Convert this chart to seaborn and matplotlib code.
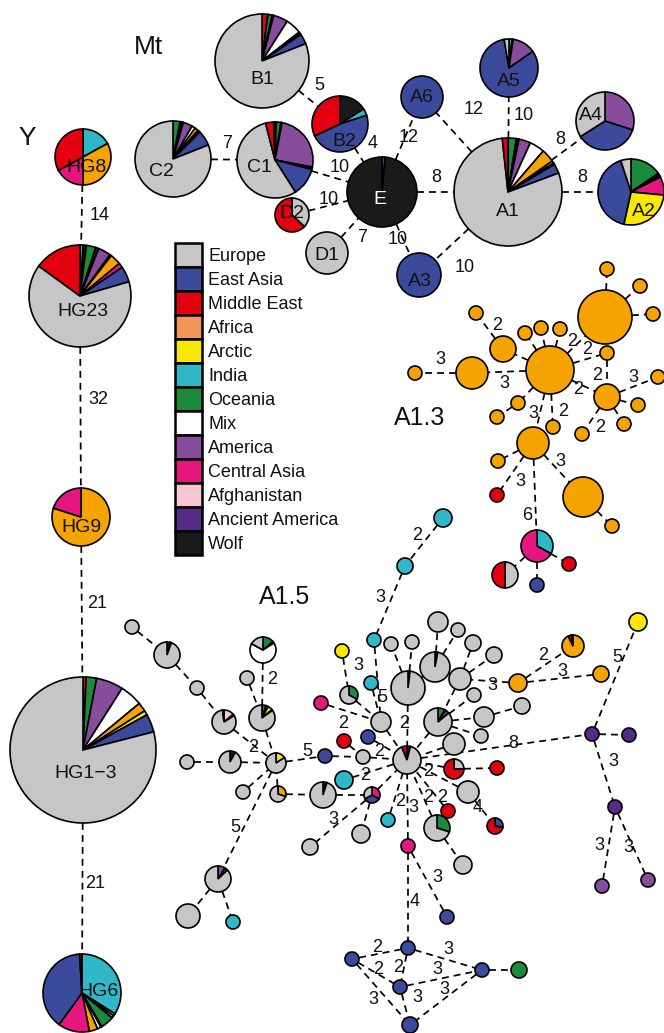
import matplotlib
matplotlib.use("Agg")
import matplotlib.pyplot as plt
import seaborn as sns
import numpy as np
from matplotlib.patches import Patch

sns.set_theme(style="white")
plt.rcParams["font.family"] = ["Liberation Sans", "DejaVu Sans"]
plt.rcParams["lines.scale_dashes"] = False

# ---- regions and colours -------------------------------------------------
regions = ["Europe", "East Asia", "Middle East", "Africa", "Arctic", "India",
           "Oceania", "Mix", "America", "Central Asia", "Afghanistan",
           "Ancient America", "Wolf"]
region_codes = ["EU", "EA", "ME", "AF", "AR", "IN", "OC", "MX", "AM", "CA",
                "AG", "AA", "WO"]
region_colors = ["#C6C6C6", "#3C4A9B", "#E3000F", "#F4965A", "#FBE800",
                 "#30B8C9", "#1B8A3B", "#FFFFFF", "#874C9B", "#E5177F",
                 "#F7C6D3", "#552B86", "#1A1A1A"]
colors = dict(zip(region_codes, region_colors))
colors["OR"] = "#F5A300"  # orange lineage colour used in the networks

# ---- mitochondrial network ---------------------------------------------
mt_nodes = [("B1", 262, 61, 47), ("B2", 340, 124, 28), ("C2", 173, 159, 38),
            ("C1", 275, 160, 38), ("D2", 292, 215, 17), ("D1", 327, 253, 21),
            ("E", 382, 192, 35), ("A6", 422, 97, 21), ("A5", 509, 68, 29),
            ("A4", 605, 121, 29), ("A1", 508, 192, 54), ("A2", 631, 192, 33),
            ("A3", 419, 275, 22)]
mt_label_pos = {"B1": (262, 79), "B2": (344, 141), "C2": (161, 171),
                "C1": (259, 167), "D2": (292, 214), "D1": (327, 256),
                "E": (380, 200), "A6": (422, 97), "A5": (509, 81),
                "A4": (591, 116), "A1": (508, 211), "A2": (644, 211),
                "A3": (420, 281)}
mt_mix = {
    "B1": [("ME", 2), ("OC", 1.5), ("WO", 0.5), ("AM", 5), ("MX", 5.5),
           ("AR", 0.5), ("OR", 0.5), ("EA", 3.5), ("EU", 81)],
    "B2": [("WO", 16), ("IN", 4), ("EA", 48), ("ME", 32)],
    "C2": [("OC", 3), ("WO", 0.7), ("IN", 0.7), ("AM", 4), ("MX", 1.5),
           ("OR", 1.5), ("AR", 0.5), ("CA", 0.6), ("EA", 6.5), ("EU", 81)],
    "C1": [("WO", 0.5), ("OC", 2), ("WO", 0.5), ("AM", 25), ("WO", 0.5),
           ("AR", 0.5), ("EA", 12), ("EU", 55), ("ME", 3.5), ("WO", 0.5)],
    "D2": [("EU", 37), ("ME", 63)],
    "D1": "EU",
    "E": [("EA", 1.5), ("WO", 98.5)],
    "A6": "EA",
    "A5": [("IN", 1.7), ("WO", 0.6), ("AM", 13), ("EA", 82), ("EU", 2.7)],
    "A4": [("AM", 30), ("EA", 36), ("EU", 34)],
    "A1": [("OC", 2.5), ("WO", 0.5), ("IN", 0.3), ("AM", 3.5), ("MX", 4.5),
           ("OR", 4), ("AR", 0.7), ("WO", 0.5), ("EA", 2.8), ("EU", 79),
           ("ME", 1.7)],
    "A2": [("OC", 15.5), ("WO", 0.5), ("AM", 1), ("IN", 0.5), ("CA", 9),
           ("AR", 27), ("EA", 41.5), ("EU", 5)],
    "A3": "EA",
}
mt_edges = [("B1", "B2", "5", 319, 85), ("C2", "C1", "7", 227, 143),
            ("C1", "E", "10", 340, 167), ("B2", "E", "4", 373, 143),
            ("D2", "E", "10", 329, 200), ("D1", "E", "7", 362, 238),
            ("E", "A6", "12", 409, 137), ("E", "A3", "10", 398, 240),
            ("E", "A1", "8", 436, 177), ("A1", "A6", "12", 474, 110),
            ("A1", "A5", "10", 524, 115), ("A1", "A4", "8", 560, 139),
            ("A1", "A2", "8", 582, 178), ("A1", "A3", "10", 465, 267)]

# ---- Y-chromosome network ----------------------------------------------
y_nodes = [("HG8", 83, 157, 28), ("HG23", 80, 296, 51), ("HG9", 81, 517, 29),
           ("HG13", 83, 750, 73), ("HG6", 82, 993, 39)]
y_labels = {"HG8": ("HG8", 86, 167), "HG23": ("HG23", 83, 311),
            "HG9": ("HG9", 81, 527), "HG13": ("HG1\u22123", 86, 773),
            "HG6": ("HG6", 99, 991)}
y_mix = {
    "HG8": [("IN", 17), ("OR", 33), ("CA", 17), ("ME", 33)],
    "HG23": [("IN", 1), ("WO", 1), ("OC", 3), ("WO", 1), ("AM", 4),
             ("WO", 0.5), ("OR", 3.5), ("CA", 1.5), ("EA", 5), ("EU", 64.5),
             ("ME", 15)],
    "HG9": [("OR", 80), ("CA", 20)],
    "HG13": [("ME", 0.7), ("OC", 2.3), ("AM", 6), ("MX", 5), ("OR", 2),
             ("AR", 1), ("EA", 4), ("EU", 79)],
    "HG6": [("IN", 34), ("AG", 1), ("MX", 1), ("OC", 5.5), ("WO", 0.5),
            ("MX", 1.5), ("OR", 3.5), ("CA", 13), ("EA", 39), ("ME", 1)],
}
y_edges = [("HG8", "HG23", "14", 100, 216), ("HG23", "HG9", "32", 98, 400),
           ("HG9", "HG13", "21", 97, 603), ("HG13", "HG6", "21", 95, 883)]

# ---- A1.3 sub-network ----------------------------------------------------
a13_nodes = [("o1", 607, 269, 7), ("o2", 640, 286, 7), ("o3", 653, 314, 7),
             ("oB", 605, 317, 27), ("oC", 550, 370, 24), ("o4", 503, 349, 13),
             ("o5", 472, 373, 16), ("o6", 415, 373, 7), ("o7", 476, 313, 7),
             ("o8", 525, 333, 7), ("o9", 541, 328, 7), ("o10", 560, 329, 7),
             ("o11", 607, 353, 7), ("o12", 607, 397, 13), ("o13", 658, 377, 7),
             ("o14", 638, 405, 7), ("o15", 624, 424, 7), ("o16", 582, 434, 7),
             ("o17", 553, 427, 7), ("o18", 518, 403, 7), ("o19", 497, 417, 7),
             ("o20", 533, 443, 16), ("o21", 498, 461, 7), ("o22", 583, 497, 20),
             ("o23", 612, 526, 7), ("r1", 497, 495, 7), ("m1", 537, 546, 16),
             ("r2", 569, 564, 7), ("rg", 505, 575, 13), ("bb", 537, 585, 7),
             ("c1", 443, 518, 9), ("c2", 405, 566, 8)]
a13_mix = {"r1": "ME", "r2": "ME", "bb": "EA", "c1": "IN", "c2": "IN",
           "m1": [("IN", 33), ("CA", 67)], "rg": [("EU", 50), ("ME", 50)]}
a13_edges = [("oB", "o1"), ("oB", "o2"), ("oB", "o3"),
             ("oC", "oB", "2", 572, 342), ("oC", "o11", "2", 587, 350),
             ("o11", "o12", "2", 597, 375), ("oC", "o12", "2", 578, 390),
             ("oC", "o4"), ("o4", "o7", "2", 497, 325),
             ("oC", "o5", "3", 504, 383), ("o5", "o6", "3", 440, 360),
             ("oC", "o8"), ("oC", "o9"), ("oC", "o10"),
             ("o12", "o13", "3", 633, 377), ("o12", "o14"), ("o12", "o15"),
             ("o12", "o16", "2", 600, 427), ("oC", "o17", "2", 563, 412),
             ("oC", "o18"), ("o18", "o19"), ("oC", "o20", "3", 533, 413),
             ("o20", "o21"), ("o20", "r1", "3", 520, 482),
             ("o20", "m1", "6", 527, 515), ("o20", "o22", "3", 560, 462),
             ("o22", "o23"), ("m1", "r2"), ("m1", "rg"), ("m1", "bb"),
             ("c1", "c2", "2", 417, 535), ("c2", "a7", "3", 380, 598)]

# ---- A1.5 sub-network ----------------------------------------------------
a15_nodes = [("g0", 407, 760, 14), ("a1", 438, 622, 10), ("a2", 458, 630, 7),
             ("a3", 473, 643, 8), ("a4", 494, 655, 8), ("a5", 391, 644, 7),
             ("a6", 412, 642, 7), ("a7", 374, 640, 7), ("a8", 342, 651, 7),
             ("a9", 435, 667, 15), ("a10", 408, 688, 17), ("a11", 460, 679, 11),
             ("a12", 371, 683, 7), ("a13", 349, 695, 9), ("a14", 321, 703, 7),
             ("a15", 381, 722, 10), ("a16", 438, 722, 14), ("a17", 474, 695, 7),
             ("a18", 484, 717, 10), ("a19", 522, 706, 8), ("a20", 518, 683, 9),
             ("a21", 573, 646, 11), ("a22", 601, 674, 8), ("a23", 638, 622, 9),
             ("p1", 592, 734, 7), ("p2", 629, 735, 7), ("p3", 615, 807, 7),
             ("p4", 602, 886, 7), ("p5", 648, 880, 7), ("a24", 344, 741, 7),
             ("a25", 368, 737, 7), ("a26", 481, 736, 7), ("a27", 454, 744, 11),
             ("a28", 363, 757, 7), ("a29", 325, 756, 7), ("a30", 454, 769, 10),
             ("a31", 497, 768, 7), ("a32", 344, 780, 9), ("a33", 323, 795, 13),
             ("a34", 372, 795, 8), ("a35", 468, 792, 11), ("a36", 448, 811, 7),
             ("a37", 495, 826, 8), ("a38", 437, 828, 13), ("a39", 388, 820, 7),
             ("a40", 361, 834, 9), ("a41", 310, 847, 8), ("a42", 408, 846, 7),
             ("a43", 463, 865, 9), ("a44", 447, 917, 7), ("b1", 408, 948, 7),
             ("b2", 352, 959, 7), ("b3", 400, 987, 7), ("b4", 482, 970, 7),
             ("b5", 410, 1025, 8), ("b6", 519, 970, 8),
             ("l1", 132, 627, 7), ("l2", 167, 655, 13), ("l3", 197, 688, 7),
             ("l4", 224, 722, 12), ("l5", 247, 678, 7), ("l6", 263, 650, 13),
             ("l7", 262, 718, 13), ("l8", 187, 762, 7), ("l9", 230, 762, 11),
             ("l10", 276, 763, 10), ("l11", 243, 792, 7), ("l12", 278, 794, 8),
             ("l13", 218, 879, 13), ("l14", 188, 916, 12), ("l15", 233, 922, 7)]
a15_mix = {
    "g0": [("WO", 4), ("EU", 90), ("ME", 6)],
    "a7": "IN", "a8": "AR", "a9": [("WO", 3), ("EU", 97)],
    "a10": [("WO", 2), ("EU", 98)], "a12": "IN",
    "a13": [("OC", 33), ("EU", 67)], "a14": "CA",
    "a16": [("OC", 8), ("WO", 1), ("EA", 5), ("EU", 86)],
    "a20": "OR", "a21": [("OR", 93), ("ME", 5), ("WO", 2)], "a22": "OR",
    "a23": "AR", "p1": "AA", "p2": "AA", "p3": "AA", "p4": "AM", "p5": "AM",
    "a24": "ME", "a25": "EA", "a29": "EA",
    "a30": [("EU", 25), ("ME", 75)], "a31": "ME", "a32": "IN",
    "a33": [("WO", 5), ("EU", 95)],
    "a34": [("CA", 33), ("EA", 34), ("EU", 33)],
    "a36": "ME", "a37": [("EA", 28), ("ME", 72)],
    "a38": [("OC", 30), ("EU", 70)], "a39": "IN", "a42": "CA", "a44": "EA",
    "b1": "EA", "b2": "EA", "b3": "EA", "b4": "EA", "b5": "EA", "b6": "OC",
    "l2": [("WO", 4), ("OR", 1.5), ("EU", 94.5)],
    "l4": [("AG", 14), ("OR", 2), ("EU", 82), ("ME", 2)],
    "l6": [("OC", 14), ("WO", 2), ("MX", 67), ("EU", 17)],
    "l7": [("OC", 5), ("AM", 3), ("AR", 6), ("WO", 1), ("EU", 85)],
    "l9": [("WO", 8), ("EU", 92)], "l10": [("AR", 16), ("EU", 84)],
    "l12": [("OR", 30), ("EU", 70)],
    "l13": [("AM", 9), ("AR", 3), ("WO", 1), ("EU", 87)], "l15": "IN",
}
a15_edges = [("a7", "a15", "5", 382, 697), ("a8", "a13", "3", 358, 665),
             ("a12", "a15"), ("a13", "a15"), ("a14", "a15", "2", 343, 723),
             ("a15", "g0"), ("a24", "a28"), ("a25", "g0"), ("a29", "a28"),
             ("a28", "g0", "2", 379, 752), ("a32", "g0", "2", 365, 775),
             ("a33", "a34"), ("a34", "g0"), ("a34", "a41", "3", 333, 820),
             ("a34", "a40"), ("a10", "g0", "2", 404, 723), ("a10", "a5"),
             ("a10", "a6"), ("a9", "a1"), ("a9", "a2"), ("a9", "a10"),
             ("a11", "a3"), ("a11", "a4"), ("a11", "a9"), ("a11", "a16"),
             ("a16", "a17"), ("a16", "a18"), ("a18", "a19"), ("a16", "g0"),
             ("a16", "a26"), ("a27", "g0"), ("a30", "g0", "2", 428, 771),
             ("a30", "a31"), ("a35", "g0"), ("a35", "a37", "4", 478, 807),
             ("a36", "g0", "2", 442, 797), ("a38", "g0", "2", 428, 797),
             ("a38", "a43"), ("a39", "g0", "2", 400, 802),
             ("a42", "g0", "3", 413, 808), ("a42", "a44", "3", 437, 878),
             ("a42", "b1", "4", 415, 902), ("b1", "b2", "2", 377, 947),
             ("b1", "b3", "2", 398, 968), ("b1", "b4", "3", 448, 949),
             ("b2", "b3", "2", 378, 970), ("b3", "b4", "3", 437, 970),
             ("b2", "b5", "3", 373, 1000), ("b3", "b5", "3", 417, 998),
             ("b4", "b5", "3", 444, 990), ("b4", "b6"),
             ("a20", "a11", "3", 492, 686), ("a20", "a21", "2", 543, 655),
             ("a20", "a22", "3", 562, 672), ("g0", "p1", "8", 513, 743),
             ("p1", "a23", "5", 617, 657), ("p1", "p2"),
             ("p1", "p3", "3", 613, 762), ("p3", "p4", "3", 599, 845),
             ("p3", "p5", "3", 628, 847), ("l1", "l2"), ("l2", "l3"),
             ("l3", "l4"), ("l4", "l10", "2", 253, 748),
             ("l6", "l7", "2", 272, 680), ("l5", "l7"), ("l7", "l10"),
             ("l8", "l9"), ("l9", "l10"), ("l10", "a29", "5", 307, 752),
             ("l11", "l10"), ("l12", "l10"), ("l12", "a33"),
             ("l10", "l13", "5", 235, 827), ("l13", "l14"), ("l13", "l15")]

titles = [("Mt", 148, 47, 19), ("Y", 27, 138, 19), ("A1.3", 420, 418, 18),
          ("A1.5", 285, 597, 18)]

# ---- drawing -------------------------------------------------------------
W, H = 664, 1033
fig = plt.figure(figsize=(W / 100, H / 100), dpi=100)
ax = fig.add_axes([0, 0, 1, 1])

positions = {}
for group in (mt_nodes, y_nodes, a13_nodes, a15_nodes):
    for nid, x, y, r in group:
        positions[nid] = (x, y, r)

mixes = {}
mixes.update(mt_mix)
mixes.update(y_mix)
mixes.update(a13_mix)
mixes.update(a15_mix)

EDGE_LW = 1.25
DASH = (0, (5.0, 3.6))


def draw_edge(a, b, text=None, lx=None, ly=None, fs=13):
    xa, ya, ra = positions[a]
    xb, yb, rb = positions[b]
    d = np.hypot(xb - xa, yb - ya)
    ux, uy = (xb - xa) / d, (yb - ya) / d
    ax.plot([xa + ux * ra, xb - ux * rb], [ya + uy * ra, yb - uy * rb],
            color="black", lw=EDGE_LW, linestyle=DASH, zorder=1,
            solid_capstyle="butt", dash_capstyle="butt")
    if text is not None:
        ax.text(lx, ly, text, fontsize=fs, ha="center", va="center",
                color="#111111", zorder=4)


for e in mt_edges + y_edges + a13_edges + a15_edges:
    draw_edge(*e)


def draw_node(nid):
    x, y, r = positions[nid]
    mix = mixes.get(nid, "OR" if nid.startswith("o") else "EU")
    if isinstance(mix, str):
        mix = [(mix, 1.0)]
    vals = [v for _, v in mix]
    cols = [colors[k] for k, _ in mix]
    ax.pie(vals, colors=cols, center=(x, y), radius=r, startangle=-90,
           counterclock=True, normalize=True,
           wedgeprops=dict(edgecolor="black", linewidth=1.2, zorder=2))


for group in (mt_nodes, y_nodes, a13_nodes, a15_nodes):
    for nid, *_ in group:
        draw_node(nid)

for nid, (lx, ly) in mt_label_pos.items():
    ax.text(lx, ly, nid, fontsize=14, ha="center", va="center",
            color="white" if nid == "E" else "#111111", zorder=5)
for nid, (txt, lx, ly) in y_labels.items():
    ax.text(lx, ly, txt, fontsize=14, ha="center", va="center",
            color="#111111", zorder=5)
for txt, x, y, fs in titles:
    ax.text(x, y, txt, fontsize=fs, ha="center", va="center",
            color="#111111", zorder=5)

handles = [Patch(facecolor=c, edgecolor="black", linewidth=1.8)
           for c in region_colors]
leg = ax.legend(handles, regions, loc="upper left",
                bbox_to_anchor=(175 / W, 1 - 243 / H),
                bbox_transform=ax.transAxes, frameon=False, fontsize=13,
                handlelength=1.5, handleheight=1.67, labelspacing=0.0,
                handletextpad=0.35, borderpad=0, borderaxespad=0)
for t in leg.get_texts():
    t.set_color("#111111")

ax.set_xlim(0, W)
ax.set_ylim(H, 0)
ax.set_aspect("equal")
ax.axis("off")
fig.savefig("out.png", dpi=100, facecolor="white")
